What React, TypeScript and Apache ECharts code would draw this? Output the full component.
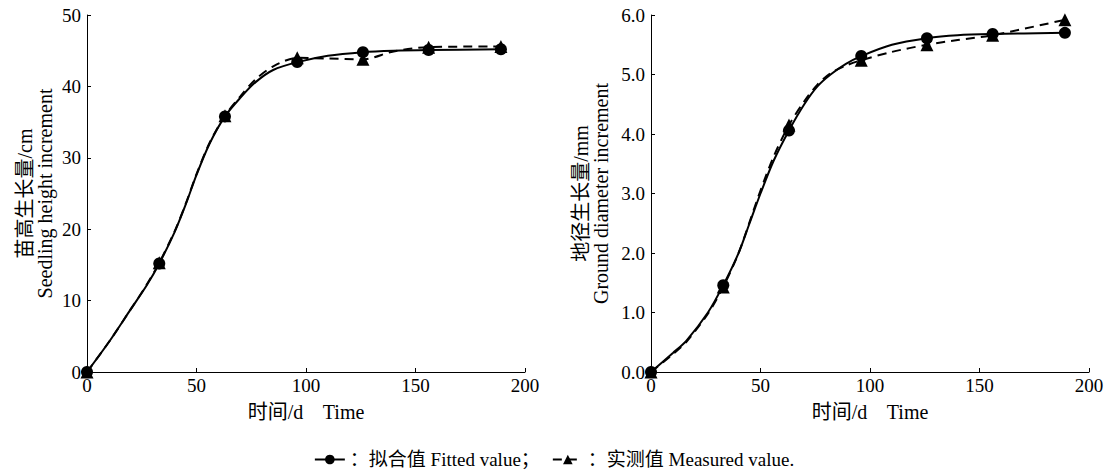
import React, { useEffect, useRef } from "react";
import * as echarts from "echarts";

// Measurement days
const days = [0, 33, 63, 96, 126, 156, 189];

// Seedling height increment (cm)
const heightFitted = [0, 15.2, 35.8, 43.4, 44.8, 45.1, 45.2];
const heightMeasured = [0, 15.3, 35.9, 44.0, 43.8, 45.5, 45.6];
// Fitted curve (x, y)
const heightCurve: [number, number][] = [
  [0, 0], [10, 4.2], [20, 8.8], [27, 12.0], [33, 15.2], [40, 19.6], [45, 23.4], [50, 27.6],
  [56, 32.0], [63, 35.8], [70, 38.4], [77, 40.6], [85, 42.3], [96, 43.4], [110, 44.3],
  [126, 44.8], [140, 45.0], [156, 45.1], [189, 45.2],
];
// Measured dashed curve (x, y)
const heightMeasuredCurve: [number, number][] = [
  [0, 0], [10, 4.2], [20, 8.8], [27, 12.1], [33, 15.3], [40, 19.7], [45, 23.5], [50, 27.7],
  [56, 32.1], [63, 35.9], [70, 38.6], [77, 41.0], [85, 42.8], [96, 44.0], [110, 43.9],
  [126, 43.8], [140, 44.9], [156, 45.5], [189, 45.6],
];

// Ground diameter increment (mm)
const diamFitted = [0, 1.46, 4.06, 5.31, 5.61, 5.68, 5.7];
const diamMeasured = [0, 1.43, 4.15, 5.24, 5.5, 5.66, 5.92];
const diamCurve: [number, number][] = [
  [0, 0], [10, 0.32], [16, 0.52], [26, 1.0], [33, 1.46], [40, 2.0], [45, 2.5], [50, 3.0],
  [56, 3.55], [63, 4.06], [70, 4.5], [76, 4.8], [82, 5.0], [89, 5.18], [96, 5.31],
  [110, 5.5], [126, 5.61], [140, 5.66], [156, 5.68], [189, 5.7],
];
const diamMeasuredCurve: [number, number][] = [
  [0, 0], [10, 0.3], [16, 0.5], [26, 0.98], [33, 1.43], [40, 2.0], [45, 2.52], [50, 3.05],
  [56, 3.62], [63, 4.15], [70, 4.55], [76, 4.83], [82, 5.02], [89, 5.15], [96, 5.24],
  [110, 5.38], [126, 5.5], [140, 5.58], [156, 5.66], [189, 5.92],
];

const xTicks = [0, 50, 100, 150, 200];
const FITTED = "拟合值 Fitted value";
const MEASURED = "实测值 Measured value";

const FONT = "'Liberation Serif', 'Times New Roman', 'Noto Sans CJK SC', serif";

function withMarkers(curve: [number, number][], markX: number[], markY: number[]) {
  return curve.map(([x, y]) => {
    const i = markX.indexOf(x);
    if (i >= 0) return { value: [x, markY[i]] };
    return { value: [x, y], symbol: "none" };
  });
}

export default function App() {
  const ref = useRef<HTMLDivElement>(null);
  useEffect(() => {
    if (!ref.current) return;
    const chart = echarts.init(ref.current, undefined, { renderer: "svg" });
    const axisCommon = {
      axisLine: { show: true, lineStyle: { color: "#000", width: 1 } },
      axisTick: { show: true, inside: true, length: 4, lineStyle: { color: "#000" } },
      splitLine: { show: false },
      axisLabel: { color: "#000", fontSize: 19, fontFamily: FONT },
      nameTextStyle: { color: "#000", fontSize: 20, fontFamily: FONT, lineHeight: 20 },
    };
    const xAxis = (gi: number) => ({
      ...axisCommon,
      type: "value",
      gridIndex: gi,
      min: xTicks[0],
      max: xTicks[xTicks.length - 1],
      interval: 50,
      name: "时间/d    Time",
      nameLocation: "middle",
      nameGap: 30,
      axisLabel: { ...axisCommon.axisLabel, margin: 4 },
    });
    const lineSeries = (
      name: string,
      gi: number,
      data: any[],
      dashed: boolean
    ) => ({
      name,
      type: "line",
      xAxisIndex: gi,
      yAxisIndex: gi,
      data,
      smooth: 0.3,
      symbol: dashed ? "triangle" : "circle",
      symbolSize: dashed ? 13 : 12,
      showAllSymbol: true,
      itemStyle: { color: "#000" },
      lineStyle: { color: "#000", width: 2, type: dashed ? [9, 6] : "solid" },
      z: dashed ? 3 : 4,
    });
    chart.setOption({
      animation: false,
      backgroundColor: "#fff",
      textStyle: { fontFamily: FONT },
      grid: [
        { left: 87, top: 15, width: 438, height: 357 },
        { left: 651, top: 15, width: 438, height: 357 },
      ],
      xAxis: [xAxis(0), xAxis(1)],
      yAxis: [
        {
          ...axisCommon,
          type: "value",
          gridIndex: 0,
          min: 0,
          max: 50,
          interval: 10,
          name: "苗高生长量/cm\nSeedling height increment",
          nameLocation: "middle",
          nameRotate: 90,
          nameGap: 32,
          axisLabel: { ...axisCommon.axisLabel, margin: 6 },
        },
        {
          ...axisCommon,
          type: "value",
          gridIndex: 1,
          min: 0,
          max: 6,
          interval: 1,
          name: "地径生长量/mm\nGround diameter increment",
          nameLocation: "middle",
          nameRotate: 90,
          nameGap: 40,
          axisLabel: {
            ...axisCommon.axisLabel,
            margin: 6,
            formatter: (v: number) => v.toFixed(1),
          },
        },
      ],
      legend: {
        data: [FITTED, MEASURED],
        left: "center",
        top: 445,
        itemWidth: 30,
        itemHeight: 12,
        itemGap: 12,
        textStyle: { color: "#000", fontSize: 19, fontFamily: FONT },
        formatter: (n: string) => (n === FITTED ? "：" + n + "；" : "：" + n + "."),
      },
      series: [
        lineSeries(FITTED, 0, withMarkers(heightCurve, days, heightFitted), false),
        lineSeries(MEASURED, 0, withMarkers(heightMeasuredCurve, days, heightMeasured), true),
        lineSeries(FITTED, 1, withMarkers(diamCurve, days, diamFitted), false),
        lineSeries(MEASURED, 1, withMarkers(diamMeasuredCurve, days, diamMeasured), true),
      ],
    });
    return () => chart.dispose();
  }, []);
  return (
    <div
      ref={ref}
      style={{ position: "fixed", left: 0, top: 0, width: 1108, height: 473, background: "#fff" }}
    />
  );
}
